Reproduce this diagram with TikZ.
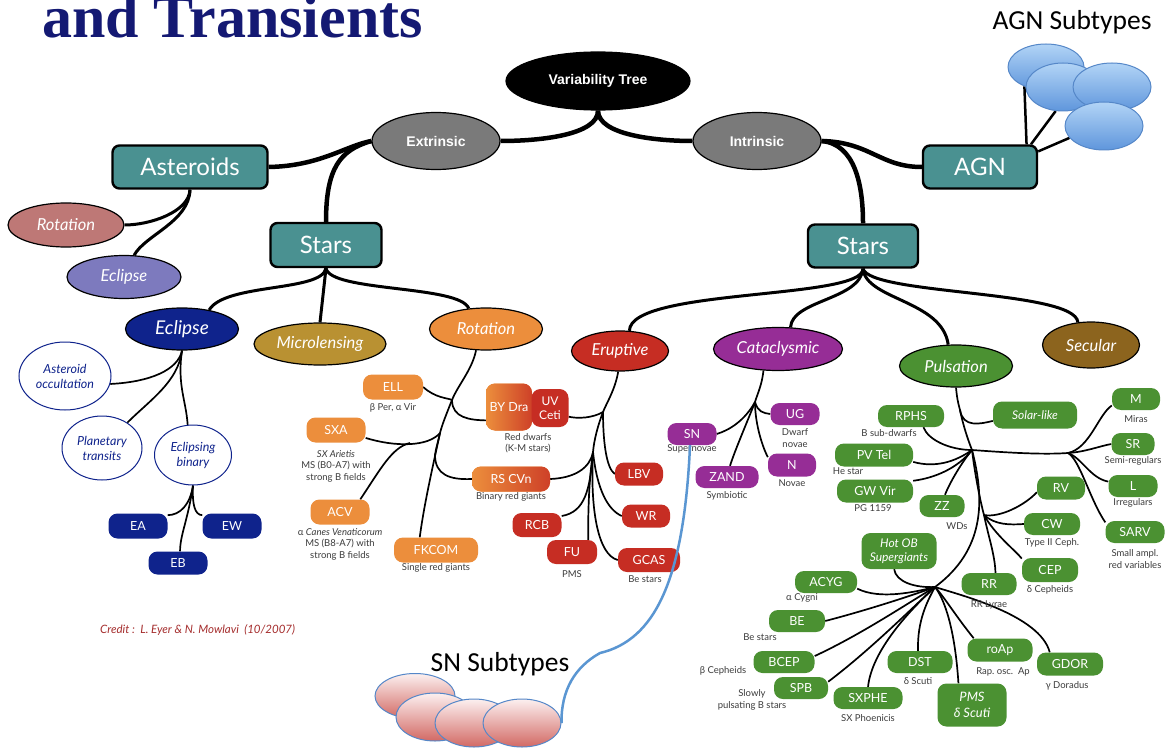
\documentclass[tikz,border=0pt]{standalone}
\usepackage{fontspec}
\setmainfont{Lato}
\newfontfamily\arialf{Liberation Sans}
\newfontfamily\calibf{Carlito}
\newfontfamily\timesf{Liberation Serif}
\usetikzlibrary{shapes.geometric,backgrounds}
\newcommand\fsz[1]{\fontsize{#1}{\dimexpr #1pt*12/10\relax}\selectfont}

\definecolor{titleblue}{RGB}{20,25,115}
\definecolor{tealc}{RGB}{74,145,145}
\definecolor{grayc}{RGB}{122,122,122}
\definecolor{astrot}{RGB}{190,120,118}
\definecolor{astecl}{RGB}{125,122,190}
\definecolor{navyc}{RGB}{15,35,140}
\definecolor{goldc}{RGB}{185,145,50}
\definecolor{orangec}{RGB}{236,142,60}
\definecolor{redc}{RGB}{198,45,35}
\definecolor{purplec}{RGB}{150,45,150}
\definecolor{greenc}{RGB}{75,145,50}
\definecolor{brownc}{RGB}{140,100,30}
\definecolor{captc}{RGB}{60,60,60}
\definecolor{creditc}{RGB}{165,45,45}
\definecolor{agnlight}{RGB}{178,212,246}
\definecolor{agndark}{RGB}{95,150,220}
\definecolor{agnedge}{RGB}{85,135,200}
\definecolor{snlight}{RGB}{252,240,240}
\definecolor{sndark}{RGB}{210,105,100}
\definecolor{linkblue}{RGB}{90,150,210}

\tikzset{
  sz/.style 2 args={minimum width=#1, minimum height=#2},
  oval/.style={ellipse, draw=black, line width=1.2, inner sep=0, text=white},
  topoval/.style={oval, font=\arialf\bfseries\fsz{14}},
  catoval/.style={oval, font=\itshape\fsz{16.5}},
  bigbox/.style={rectangle, rounded corners=7, draw=black, line width=2.4, fill=tealc, text=white, inner sep=0, font=\fsz{24}},
  pill/.style={rectangle, rounded corners=9, fill=#1, text=white, inner sep=0, align=center, font=\fsz{12.5}},
  subov/.style={ellipse, draw=navyc, line width=1, fill=white, text=navyc, inner sep=0, align=center, font=\itshape\fsz{12.5}},
  capt/.style={text=captc, font=\fsz{9.5}, inner sep=0, align=center},
  blob/.style={ellipse, inner sep=0, line width=1, draw=agnedge, top color=agnlight, bottom color=agndark},
  snblob/.style={ellipse, inner sep=0, line width=1, draw=agnedge, top color=snlight, bottom color=sndark},
  link1/.style={line width=4.5},
  link2/.style={line width=3},
  link3/.style={line width=1.7},
}

\begin{document}
\begin{tikzpicture}[x=1pt,y=-1pt]
\useasboundingbox (0,0) rectangle (1166,751);

% heading
\node[anchor=base west, inner sep=0, text=titleblue, font=\timesf\bfseries\fsz{60}] (title) at (42,38) {and Transients};

% root and the first split
\node[topoval, fill=black, sz={184}{58}] (vt) at (598,81) {Variability Tree};
\node[topoval, fill=grayc, sz={128}{57}] (ext) at (436,141) {Extrinsic};
\node[topoval, fill=grayc, sz={128}{57}] (int) at (757,141) {Intrinsic};

\node[bigbox, sz={155}{43}] (ast) at (190,167) {Asteroids};
\node[bigbox, sz={111}{44}] (starsL) at (326,245) {Stars};
\node[bigbox, sz={110}{43}] (starsR) at (863,246) {Stars};
\node[bigbox, sz={114}{43}] (agn) at (980,167) {AGN};

% asteroids
\node[catoval, fill=astrot, sz={116}{44}] (astrot) at (66,225) {Rotation};
\node[catoval, fill=astecl, sz={114}{43}] (astecl) at (124,277) {Eclipse};

% extrinsic stars
\node[catoval, fill=navyc, sz={113}{42}, font=\itshape\fsz{19}] (ecl) at (182,329) {Eclipse};
\node[catoval, fill=goldc, sz={132}{42}] (micro) at (320,344) {Microlensing};
\node[catoval, fill=orangec, sz={113}{42}] (rot) at (486,329) {Rotation};

% intrinsic stars
\node[catoval, fill=redc, sz={97}{40}] (erupt) at (620,351) {Eruptive};
\node[catoval, fill=purplec, sz={129}{43}] (cata) at (778,349) {Cataclysmic};
\node[catoval, fill=greenc, sz={113}{42}] (puls) at (956,366) {Pulsation};
\node[catoval, fill=brownc, sz={97}{46}] (secular) at (1091,345) {Secular};

% eclipse family
\node[subov, sz={92}{68}] (occ) at (65,376) {Asteroid\\occultation};
\node[subov, sz={80}{64}] (ptr) at (102,448) {Planetary\\transits};
\node[subov, sz={77}{60}] (ebin) at (193,455) {Eclipsing\\binary};
\node[pill=navyc, sz={59}{25}] (EA) at (138,526) {EA};
\node[pill=navyc, sz={59}{25}] (EW) at (232,526) {EW};
\node[pill=navyc, sz={59}{23}] (EB) at (178,563) {EB};

% rotation family
\node[pill=orangec, sz={60}{25}] (ELL) at (393,387) {ELL};
\node[capt] (cELL) at (393,408) {β Per, α Vir};
\node[pill=orangec, sz={59}{25}] (SXA) at (336,430) {SXA};
\node[capt] (cSXA) at (336,466) {\textit{SX Arietis}\\MS (B0-A7) with\\strong B fields};
\node[pill=orangec, sz={59}{25}] (ACV) at (340,512) {ACV};
\node[capt] (cACV) at (340,544) {α \textit{Canes Venaticorum}\\MS (B8-A7) with\\strong B fields};
\node[pill=orangec, sz={84}{25}] (FKCOM) at (436,550) {FKCOM};
\node[capt] (cFKCOM) at (436,568) {Single red giants};
\node[pill=orangec, left color=orangec, right color=redc!80!orangec, sz={46}{47}] (BYDra) at (509,407) {BY Dra};
\node[pill=redc, sz={37}{38}, font=\fsz{12}] (UVCeti) at (550,408) {UV\\Ceti};
\node[capt] (cBY) at (528,443) {Red dwarfs\\(K-M stars)};
\node[pill=orangec, left color=orangec, right color=redc!80!orangec, sz={78}{25}] (RSCVn) at (511,479) {RS CVn};
\node[capt] (cRS) at (511,497) {Binary red giants};

% eruptive family
\node[pill=redc, sz={48}{23}] (LBV) at (639,474) {LBV};
\node[pill=redc, sz={48}{23}] (WR) at (646,516) {WR};
\node[pill=redc, sz={62}{24}] (GCAS) at (649,560) {GCAS};
\node[capt] (cGCAS) at (645,579) {Be stars};
\node[pill=redc, sz={50}{24}] (FU) at (572,552) {FU};
\node[capt] (cFU) at (572,574) {PMS};
\node[pill=redc, sz={49}{24}] (RCB) at (537,525) {RCB};

% cataclysmic family
\node[pill=purplec, sz={49}{22}] (SN) at (692,434) {SN};
\node[capt] (cSN) at (692,449) {Supernovae};
\node[pill=purplec, sz={49}{22}] (UG) at (795,414) {UG};
\node[capt] (cUG) at (795,438) {Dwarf\\novae};
\node[pill=purplec, sz={48}{23}] (N) at (792,465) {N};
\node[capt] (cN) at (792,483) {Novae};
\node[pill=purplec, sz={63}{22}] (ZAND) at (727,477) {ZAND};
\node[capt] (cZAND) at (727,496) {Symbiotic};

% pulsation family
\node[pill=greenc, sz={66}{22}] (RPHS) at (911,416) {RPHS};
\node[capt] (cRPHS) at (889,433) {B sub-dwarfs};
\node[pill=greenc, sz={84}{27}, font=\itshape\fsz{12}] (solar) at (1035,415) {Solar-like};
\node[pill=greenc, sz={78}{23}] (PVTel) at (874,455) {PV Tel};
\node[capt] (cPV) at (848,471) {He star};
\node[pill=greenc, sz={76}{23}] (GWVir) at (875,491) {GW Vir};
\node[capt] (cGW) at (873,508) {PG 1159};
\node[pill=greenc, sz={45}{22}] (ZZ) at (942,506) {ZZ};
\node[capt] (cZZ) at (957,526) {WDs};
\node[pill=greenc, sz={48}{22}] (M) at (1136,399) {M};
\node[capt] (cM) at (1136,419) {Miras};
\node[pill=greenc, sz={43}{22}] (SR) at (1133,444) {SR};
\node[capt] (cSR) at (1133,461) {Semi-regulars};
\node[pill=greenc, sz={49}{22}] (L) at (1133,486) {L};
\node[capt] (cL) at (1133,503) {Irregulars};
\node[pill=greenc, sz={59}{22}] (SARV) at (1135,532) {SARV};
\node[capt] (cSARV) at (1135,559) {Small ampl.\\red variables};
\node[pill=greenc, sz={48}{23}] (RV) at (1061,488) {RV};
\node[pill=greenc, sz={56}{22}] (CW) at (1052,524) {CW};
\node[capt] (cCW) at (1052,543) {Type II Ceph.};
\node[pill=greenc, sz={56}{24}] (CEP) at (1050,570) {CEP};
\node[capt] (cCEP) at (1050,590) {δ Cepheids};
\node[pill=greenc, sz={55}{22}] (RR) at (989,584) {RR};
\node[capt] (cRR) at (989,605) {RR Lyrae};
\node[pill=greenc, sz={75}{36}, font=\itshape\fsz{12}] (HotOB) at (899,551) {Hot OB\\Supergiants};
\node[pill=greenc, sz={62}{22}] (ACYG) at (826,582) {ACYG};
\node[capt] (cACYG) at (802,598) {α Cygni};
\node[pill=greenc, sz={56}{22}] (BE) at (797,621) {BE};
\node[capt] (cBE) at (760,637) {Be stars};
\node[pill=greenc, sz={61}{22}] (BCEP) at (784,662) {BCEP};
\node[capt] (cBCEP) at (723,671) {β Cepheids};
\node[pill=greenc, sz={54}{22}] (SPB) at (801,688) {SPB};
\node[capt] (cSPB) at (752,700) {Slowly\\pulsating B stars};
\node[pill=greenc, sz={69}{22}] (SXPHE) at (868,698) {SXPHE};
\node[capt] (cSXPHE) at (868,718) {SX Phoenicis};
\node[pill=greenc, sz={65}{22}] (DST) at (920,662) {DST};
\node[capt] (cDST) at (918,681) {δ Scuti};
\node[pill=greenc, sz={69}{43}, font=\itshape\fsz{13}] (PMS) at (972,705) {PMS\\δ Scuti};
\node[pill=greenc, sz={65}{23}] (roAp) at (1000,650) {roAp};
\node[capt] (croAp) at (1003,672) {Rap.\ osc.\ \ Ap};
\node[pill=greenc, sz={66}{23}] (GDOR) at (1070,664) {GDOR};
\node[capt] (cGDOR) at (1067,686) {γ Doradus};

% AGN subtypes
\node[font=\calibf\fsz{27.5}, inner sep=0, anchor=base] (agnt) at (1072,30) {AGN Subtypes};
\node[blob, sz={76}{46}] (a1) at (1046,67) {};
\node[blob, sz={74}{48}] (a2) at (1063,87) {};
\node[blob, sz={78}{48}] (a3) at (1112,87) {};
\node[blob, sz={78}{48}] (a4) at (1104,126) {};

% SN subtypes
\node[font=\calibf\fsz{27.5}, inner sep=0, anchor=base] (snt) at (500,671) {SN Subtypes};
\node[snblob, sz={80}{45}] (s1) at (415,696) {};
\node[snblob, sz={78}{48}] (s2) at (435,717) {};
\node[snblob, sz={78}{48}] (s3) at (474,723) {};
\node[snblob, sz={78}{48}] (s4) at (522,723) {};

% credit line
\node[anchor=west, inner sep=0, text=creditc, font=\itshape\fsz{11.5}] (credit) at (100,630) {Credit :\ \ L. Eyer \& N. Mowlavi\ \ (10/2007)};

% junction points of the branching connectors
\coordinate (jR1) at (452,400);
\coordinate (jR2) at (440,433);
\coordinate (jR3) at (435,455);
\coordinate (jS) at (410,443);
\coordinate (jU) at (603,412);
\coordinate (jT) at (593,452);
\coordinate (jC) at (755,402);
\coordinate (jP0) at (960,410);
\coordinate (J1) at (972,450);
\coordinate (J2) at (1068,453);
\coordinate (J3) at (935,587);
\coordinate (J4) at (984,515);

\begin{pgfonlayer}{background}
\fill[white] (0,0) rectangle (1166,751);

% trunk level
\draw[link1] (vt.south) .. controls (598,135) and (540,141) .. (ext.east);
\draw[link1] (vt.south) .. controls (598,135) and (656,141) .. (int.west);
\draw[link1] (ext.west) .. controls (345,146) and (320,166) .. (ast.east);
\draw[link1] (ext.west) .. controls (340,150) and (326,168) .. (starsL.north);
\draw[link1] (int.east) .. controls (870,142) and (880,167) .. (agn.west);
\draw[link1] (int.east) .. controls (855,144) and (863,185) .. (starsR.north);

% AGN subtype connectors
\draw[line width=2.5] (agn.26) -- (a1.222);
\draw[line width=2.5] (agn.24) -- (a2.253);
\draw[line width=2.5] (agn.15) -- (a4.199);

% asteroid classes
\draw[link2] (ast.south) .. controls (189,212) and (150,225) .. (astrot.east);
\draw[link2] (ast.south) .. controls (189,222) and (145,235) .. (astecl.65);

% extrinsic star classes
\draw[link2] (starsL.south) .. controls (322,292) and (225,283) .. (ecl.35);
\draw[link2] (starsL.south) -- (micro.north);
\draw[link2] (starsL.south) .. controls (330,292) and (460,285) .. (rot.130);

% intrinsic star classes
\draw[link2] (starsR.south) .. controls (863,300) and (630,288) .. (erupt.65);
\draw[link2] (starsR.south) .. controls (860,300) and (792,300) .. (cata.60);
\draw[link2] (starsR.south) .. controls (866,300) and (942,300) .. (puls.110);
\draw[link2] (starsR.south) .. controls (870,295) and (1075,290) .. (secular.120);

% eclipse
\draw[link3] (ecl.south) .. controls (178,370) and (150,382) .. (occ.-10);
\draw[link3] (ecl.south) .. controls (178,382) and (150,400) .. (ptr.45);
\draw[link3] (ecl.south) .. controls (177,385) and (186,400) .. (ebin.100);
\draw[link3] (ebin.south) .. controls (190,505) and (180,515) .. (EA.20);
\draw[link3] (ebin.south) .. controls (188,520) and (180,535) .. (EB.80);
\draw[link3] (ebin.south) .. controls (192,505) and (195,515) .. (EW.160);

% rotation
\draw[link3] (rot.-115) .. controls (472,370) and (458,385) .. (jR1) .. controls (446,415) and (442,425) .. (jR2) .. controls (438,442) and (436,448) .. (jR3);
\draw[link3] (ELL.east) .. controls (435,398) and (448,398) .. (jR1);
\draw[link3] (jR1) .. controls (452,418) and (470,420) .. (BYDra.-150);
\draw[link3] (SXA.-15) .. controls (395,447) and (428,447) .. (jR2);
\draw[link3] (ACV.32) .. controls (380,470) and (392,447) .. (jS);
\draw[link3] (jR2) .. controls (432,470) and (424,505) .. (FKCOM.142);
\draw[link3] (jR3) .. controls (435,475) and (450,480) .. (RSCVn.west);

% eruptive
\draw[link3] (erupt.-95) .. controls (615,390) and (607,402) .. (jU) .. controls (598,425) and (594,440) .. (jT);
\draw[link3] (UVCeti.-25) .. controls (585,420) and (598,415) .. (jU);
\draw[link3] (jU) .. controls (603,440) and (606,468) .. (LBV.west);
\draw[link3] (RSCVn.east) .. controls (575,478) and (590,468) .. (jT);
\draw[link3] (jT) .. controls (590,490) and (585,512) .. (RCB.20);
\draw[link3] (jT) .. controls (589,480) and (588,510) .. (FU.37);
\draw[link3] (jT) .. controls (597,490) and (608,510) .. (WR.west);
\draw[link3] (jT) .. controls (590,510) and (598,555) .. (GCAS.west);

% cataclysmic
\draw[link3] (cata.-124) .. controls (762,385) and (757,395) .. (jC);
\draw[link3] (jC) .. controls (745,420) and (730,430) .. (SN.east);
\draw[link3] (jC) .. controls (758,412) and (763,413) .. (UG.west);
\draw[link3] (jC) .. controls (755,425) and (763,448) .. (N.162);
\draw[link3] (jC) .. controls (748,420) and (735,450) .. (ZAND.75);

% pulsation
\draw[link3] (puls.south) .. controls (957,398) and (958,403) .. (jP0) .. controls (963,425) and (968,440) .. (J1);
\draw[link3] (jP0) .. controls (963,428) and (980,424) .. (solar.-172);
\draw[link3] (RPHS.-42) .. controls (928,440) and (950,450) .. (J1);
\draw[link3] (PVTel.-10) .. controls (935,468) and (955,462) .. (J1);
\draw[link3] (GWVir.15) .. controls (935,478) and (958,468) .. (J1);
\draw[link3] (ZZ.75) .. controls (950,482) and (962,462) .. (J1);
\draw[link3] (J1) .. controls (1000,452) and (1040,455) .. (J2);
\draw[link3] (J2) .. controls (1090,448) and (1098,415) .. (M.-165);
\draw[link3] (J2) .. controls (1085,452) and (1100,446) .. (SR.west);
\draw[link3] (J2) .. controls (1082,458) and (1090,478) .. (L.170);
\draw[link3] (J2) .. controls (1080,460) and (1090,500) .. (SARV.162);
\draw[link3] (J1) .. controls (975,475) and (980,500) .. (J4);
\draw[link3] (J4) .. controls (1000,518) and (1025,505) .. (RV.-170);
\draw[link3] (J4) .. controls (995,525) and (1010,525) .. (CW.west);
\draw[link3] (J4) .. controls (995,535) and (1015,550) .. (CEP.158);
\draw[link3] (J4) .. controls (988,535) and (995,555) .. (RR.60);
\draw[link3] (J1) .. controls (985,500) and (985,550) .. (J3);
\draw[link3] (HotOB.-105) .. controls (896,582) and (915,588) .. (J3);
\draw[link3] (ACYG.-12) .. controls (880,600) and (915,592) .. (J3);
\draw[link3] (BE.east) .. controls (860,612) and (905,598) .. (J3);
\draw[link3] (BCEP.11) .. controls (860,635) and (905,605) .. (J3);
\draw[link3] (SPB.13) .. controls (870,650) and (910,610) .. (J3);
\draw[link3] (SXPHE.north) .. controls (872,650) and (910,610) .. (J3);
\draw[link3] (DST.100) .. controls (917,620) and (928,600) .. (J3);
\draw[link3] (PMS.122) .. controls (955,630) and (945,600) .. (J3);
\draw[link3] (roAp.156) .. controls (955,615) and (945,598) .. (J3);
\draw[link3] (GDOR.150) .. controls (1040,615) and (960,595) .. (J3);
\end{pgfonlayer}

% link from SN down to its subtypes
\draw[linkblue, line width=2.5] (SN.-100) .. controls (684,580) and (655,640) .. (600,653) .. controls (575,667) and (561,690) .. (s4.east);
\end{tikzpicture}
\end{document}
